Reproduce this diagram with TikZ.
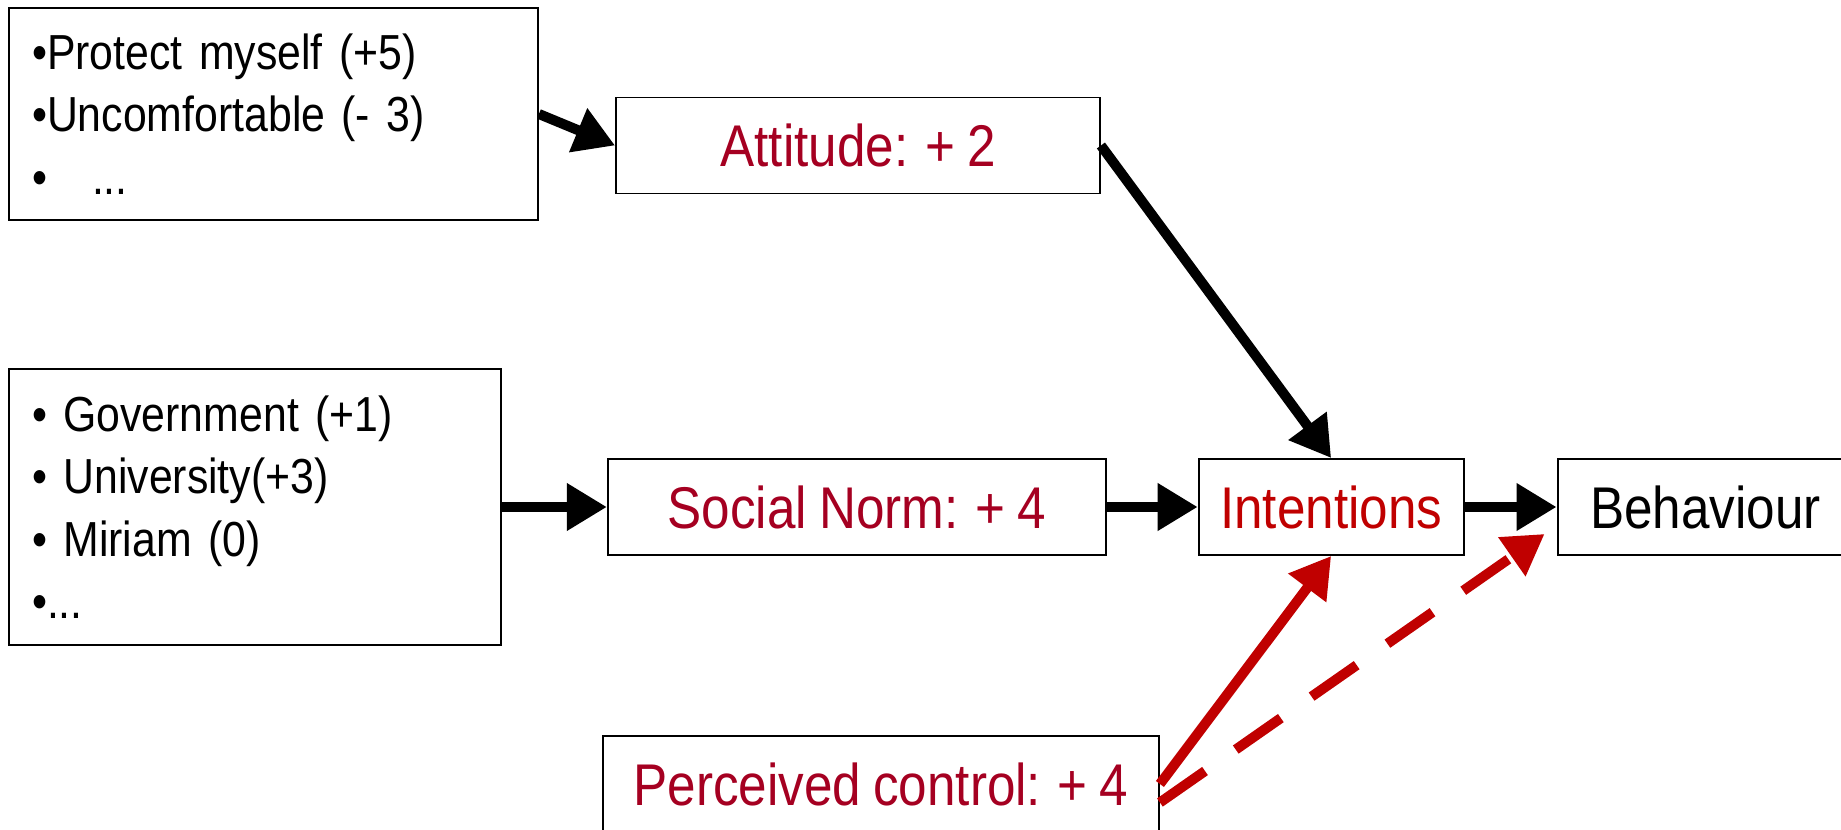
\documentclass[tikz,border=0pt]{standalone}
\usepackage{fontspec}
\setmainfont[FakeStretch=0.87, WordSpace=0.85]{Liberation Sans}
\usetikzlibrary{positioning,arrows.meta}
\definecolor{LabelRed}{HTML}{A50021}
\definecolor{ArrowRed}{HTML}{C00000}
\tikzstyle{ListNode}=[draw=black, line width=1.1pt, align=left, inner xsep=0.46cm, font=\fontsize{28}{35.5}\selectfont]
\tikzstyle{FactorNode}=[draw=black, line width=1.1pt, minimum height=1.92cm, text=LabelRed, font=\fontsize{33.5}{40}\selectfont]
\tikzstyle{ConnArrow}=[line width=0.2cm, -{Triangle[length=0.8cm, width=0.9cm]}]

\begin{document}
\begin{tikzpicture}[x=0.02cm, y=-0.02cm]
      \useasboundingbox (0,0) rectangle (1841,830);
      \node[ListNode, minimum width=10.58cm, minimum height=4.24cm, text width=9.66cm] (beliefs) at (273.5,114)
        {•Protect myself (+5)\\ •Uncomfortable (- 3)\\ •\hspace{0.9cm}...};
      \node[ListNode, minimum width=9.84cm, minimum height=5.52cm, text width=8.92cm] (referents) at (255,507)
        {• Government (+1)\\ • University(+3)\\ • Miriam (0)\\ •...};
      \node[FactorNode, minimum width=9.68cm] (attitude) at (858,145.5) {Attitude: + 2};
      \node[FactorNode, minimum width=9.96cm] (norm) [right=2.1cm of referents] {Social Norm: + 4};
      \node[FactorNode, minimum width=5.3cm, text=ArrowRed] (intent) [right=1.82cm of norm] {Intentions};
      \node[FactorNode, minimum width=5.92cm, text=black] (behav) [right=1.84cm of intent] {Behaviour};
      \node[FactorNode, minimum width=11.12cm] (percv) at (881,784) {Perceived control: + 4};
      \draw[ConnArrow] (beliefs.east) -- (attitude.west);
      \draw[ConnArrow] (referents.east) -- (norm.west);
      \draw[ConnArrow] (attitude.east) -- (intent.north);
      \draw[ConnArrow] (norm.east) -- (intent.west);
      \draw[ConnArrow] (intent.east) -- (behav.west);
      \draw[ConnArrow, ArrowRed] (percv.east) -- (intent.south);
      \draw[ConnArrow, ArrowRed, dash pattern=on 1.1cm off 0.75cm] ([yshift=-0.37cm]percv.east) -- ([xshift=-0.24cm, yshift=0.44cm]behav.south west);
    \end{tikzpicture}
\end{document}
